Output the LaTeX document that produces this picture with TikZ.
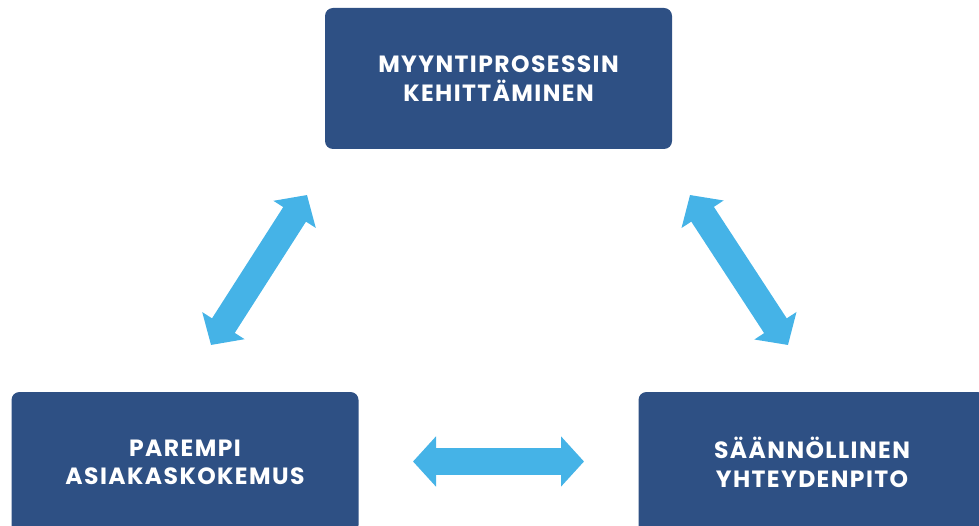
\documentclass[tikz,border=0pt]{standalone}
\usepackage{fontspec}
\setmainfont{Poppins}
\newfontfamily\boxfont{Poppins}[LetterSpace=6]
\usetikzlibrary{arrows.meta}
\definecolor{boxblue}{HTML}{2E5084}
\definecolor{arrowblue}{HTML}{45B3E7}
\begin{document}
\begin{tikzpicture}[x=1pt,y=-1pt,
 box/.style={fill=boxblue, rounded corners=8pt, minimum width=347pt, minimum height=141pt, inner sep=0pt, align=center, text=white, font=\boxfont\bfseries\fontsize{23.5}{28.5}\selectfont},
 dbl/.style={arrowblue, line width=27pt, {Triangle[width=49pt,length=23pt]}-{Triangle[width=49pt,length=23pt]}}]
\useasboundingbox (0,0) rectangle (979,526);
\node[box] (top) at (498.5,78.5) {MYYNTIPROSESSIN\\KEHITTÄMINEN};
\node[box] (left) at (185,462.5) {PAREMPI\\ASIAKASKOKEMUS};
\node[box] (right) at (812,462.5) {SÄÄNNÖLLINEN\\YHTEYDENPITO};
\coordinate (l1) at (211,345);
\coordinate (l2) at (307,195);
\coordinate (r1) at (690,195);
\coordinate (r2) at (788,345);
\coordinate (b1) at (413,461.5);
\coordinate (b2) at (584,461.5);
\draw[dbl] (l1) -- (l2);
\draw[dbl] (r1) -- (r2);
\draw[dbl] (b1) -- (b2);
\end{tikzpicture}
\end{document}
